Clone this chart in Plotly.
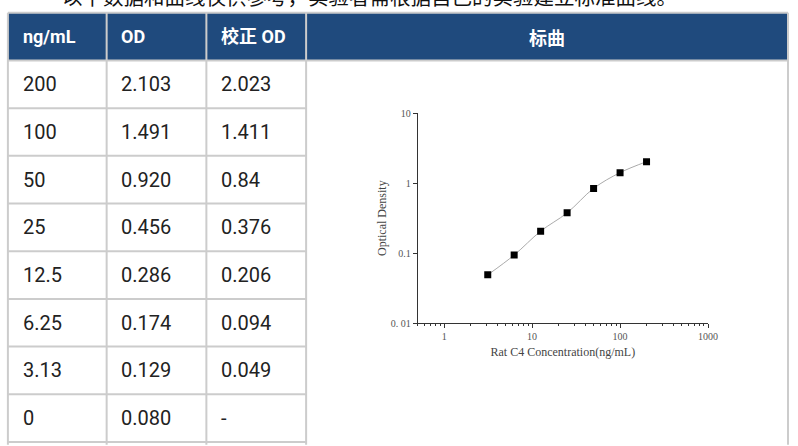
import plotly.graph_objects as go

# ---------------- data ----------------
headers = ["ng/mL", "OD", "校正 OD", "标曲"]
conc_labels = ["200", "100", "50", "25", "12.5", "6.25", "3.13", "0"]
od_labels = ["2.103", "1.491", "0.920", "0.456", "0.286", "0.174", "0.129", "0.080"]
od_corr_labels = ["2.023", "1.411", "0.84", "0.376", "0.206", "0.094", "0.049", "-"]
top_note = "以下数据和曲线仅供参考，实验者需根据自己的实验建立标准曲线。"

y_tick_vals = [0.01, 0.1, 1, 10]
y_tick_text = ["0. 01", "0.1", "1", "10"]
x_tick_vals = [1, 10, 100, 1000]
x_tick_text = ["1", "10", "100", "1000"]

# curve points come from the table (skip the blank row)
curve_x = [float(c) for c, v in zip(conc_labels, od_corr_labels) if v != "-"]
curve_y = [float(v) for v in od_corr_labels if v != "-"]

# ---------------- layout geometry (pixels) ----------------
W, H = 798, 446
col_edges = [8, 108, 209, 310, 798]
header_top, header_bot, row_h = 7, 56, 49


def px(x):
    return x / W


def py(y):
    return 1 - y / H


grid_color = "#cccccc"
shapes = []
# header background
shapes.append(dict(type="rect", xref="paper", yref="paper",
                   x0=px(col_edges[0]), x1=px(col_edges[-1]),
                   y0=py(header_bot), y1=py(header_top),
                   fillcolor="#1F4A7D", line=dict(width=0), layer="below"))
# vertical grid lines
for xe in col_edges:
    shapes.append(dict(type="line", xref="paper", yref="paper",
                       x0=px(xe), x1=px(xe), y0=py(header_top), y1=py(H + 5),
                       line=dict(color=grid_color, width=2)))
# horizontal lines
for yy in [header_top, header_bot]:
    shapes.append(dict(type="line", xref="paper", yref="paper",
                       x0=px(col_edges[0]), x1=px(col_edges[-1]), y0=py(yy), y1=py(yy),
                       line=dict(color=grid_color, width=2)))
for i in range(1, len(conc_labels) + 1):
    yy = header_bot + i * row_h
    shapes.append(dict(type="line", xref="paper", yref="paper",
                       x0=px(col_edges[0]), x1=px(col_edges[3]), y0=py(yy), y1=py(yy),
                       line=dict(color=grid_color, width=2)))

annotations = []
# top note (cut off by the top edge, as in the reference)
annotations.append(dict(text=top_note, xref="paper", yref="paper",
                        x=px(61), y=py(0), xanchor="left", yanchor="middle", yshift=10,
                        showarrow=False,
                        font=dict(family="Noto Sans CJK SC", size=20.5, color="#111111")))
# header texts
hy = py((header_top + header_bot) / 2)
for j, h in enumerate(headers[:3]):
    annotations.append(dict(text="<b>%s</b>" % h, xref="paper", yref="paper",
                            x=px(col_edges[j] + 13), y=hy, xanchor="left", yanchor="middle",
                            showarrow=False,
                            font=dict(family="Roboto, Noto Sans CJK SC", size=18, color="white")))
annotations.append(dict(text="<b>%s</b>" % headers[3], xref="paper", yref="paper",
                        x=px((col_edges[3] + col_edges[4]) / 2), y=hy,
                        xanchor="center", yanchor="middle", showarrow=False,
                        font=dict(family="Noto Sans CJK SC", size=18, color="white")))
# body cells
for i in range(len(conc_labels)):
    cy = py(header_bot + row_h * (i + 0.5))
    for j, col in enumerate([conc_labels, od_labels, od_corr_labels]):
        annotations.append(dict(text=col[i], xref="paper", yref="paper",
                                x=px(col_edges[j] + 13), y=cy,
                                xanchor="left", yanchor="middle", showarrow=False,
                                font=dict(family="Roboto", size=20, color="#222222")))

# ---------------- chart ----------------
fig = go.Figure()
fig.add_trace(go.Scatter(
    x=curve_x, y=curve_y, mode="lines+markers",
    line=dict(color="#aaaaaa", width=1, shape="spline"),
    marker=dict(symbol="square", size=7, color="black"),
    showlegend=False, hoverinfo="skip"))

minor_x = [0.5, 0.6, 0.7, 0.8, 0.9] + [k for k in range(2, 10)] + \
          [k * 10 for k in range(2, 10)] + [k * 100 for k in range(2, 10)]

tick_font = dict(family="Liberation Serif, Times New Roman, serif", size=10, color="#555555")
title_font = dict(family="Liberation Serif, Times New Roman, serif", size=12, color="#444444")

fig.update_layout(
    width=W, height=H,
    margin=dict(l=0, r=0, t=0, b=0),
    paper_bgcolor="white", plot_bgcolor="white",
    shapes=shapes, annotations=annotations,
    xaxis=dict(type="log", domain=[px(423), px(717)], range=[-0.301, 3],
               tickvals=x_tick_vals, ticktext=x_tick_text,
               showgrid=False, zeroline=False,
               showline=True, linecolor="#333333", linewidth=1,
               ticks="outside", ticklen=4, tickcolor="#333333", tickwidth=1,
               minor=dict(tickvals=minor_x, ticks="outside", ticklen=2,
                          tickcolor="#333333", showgrid=False),
               tickfont=tick_font,
               title=dict(text="Rat C4 Concentration(ng/mL)", font=title_font, standoff=6)),
    yaxis=dict(type="log", domain=[py(326), py(110)], range=[-2, 1],
               tickvals=y_tick_vals, ticktext=y_tick_text,
               showgrid=False, zeroline=False,
               showline=True, linecolor="#333333", linewidth=1,
               ticks="outside", ticklen=4, tickcolor="#333333", tickwidth=1,
               tickfont=tick_font,
               title=dict(text="Optical Density", font=title_font, standoff=1)),
)

post_js = "document.body.style.margin='0';document.body.style.overflow='hidden';"

fig.write_html("out.html", config={"displayModeBar": False}, post_script=post_js)
